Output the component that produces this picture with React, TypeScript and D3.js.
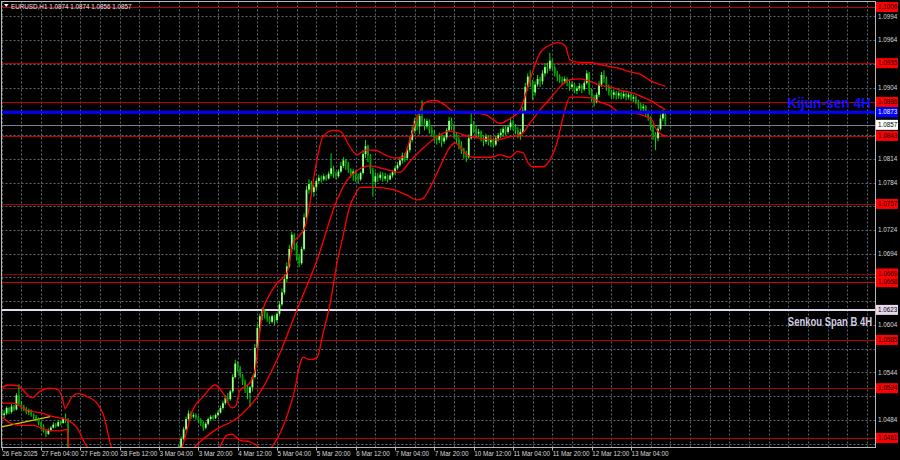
import React from "react";
import * as d3 from "d3";

// ---------- DATA ----------
const BASE = 1.04; // pips are counted above this price
const firstOpen = 95;
const closePips = [
  90, 92, 99, 94, 101, 97, 115, 104, 100, 98,
  94, 96, 91, 88, 85, 80, 76, 70, 66, 71,
  74, 78, 76, 81, 80, 85, 84, 40,
  38, 35, 30, 33, 28, 30, 32, 30,
  27, 31, 29, 26, 22, 19, 15, 12, 16, 20, 14, 10,
  4, 0, -6, -12, -8, -15, -22, -28, -25, -30, -27, -26,
  -18, -10, 0, 8, 12, 18, 22, 28, 24, 30, 35, 40,
  48, 60, 72, 85, 92, 88, 90, 87, 84, 80, 74, 79,
  85, 88, 86, 90, 93, 99, 105, 112, 110, 120, 138, 155,
  150, 140, 132, 126, 118, 125, 138, 175, 200, 215, 222, 218,
  212, 208, 215, 210, 218, 230, 245, 262, 278, 300, 318, 305,
  290, 282, 300, 340, 375, 382, 372, 378, 386, 390, 388, 392,
  389, 395, 402, 395, 392, 398, 405, 412, 408, 400, 395, 398,
  392, 388, 396, 420, 430, 418, 400, 385, 392, 390, 394, 389,
  392, 388, 393, 397, 402, 406, 412, 418, 415, 425, 438, 450,
  462, 455, 468, 460, 455, 462, 450, 446, 440, 438, 444, 436,
  441, 450, 462, 455, 445, 438, 432, 425, 420, 416, 440, 458,
  452, 446, 448, 440, 436, 442, 435, 438, 432, 440, 444, 447,
  452, 448, 454, 460, 455, 450, 444, 448, 475, 505, 518, 510,
  498, 508, 515, 512, 522, 530, 528, 538, 530, 522, 518, 515,
  512, 515, 510, 505, 508, 500, 503, 506, 502, 510, 522, 500,
  492, 486, 495, 508, 520, 515, 505, 498, 495, 498, 494, 497,
  493, 496, 492, 495, 490, 492, 486, 482, 478, 480, 472, 466,
  455, 445, 440, 452, 465, 474, 457,
];
const highPips = [
  97, 96, 101, 100, 104, 103, 118, 129, 108, 103,
  100, 98, 97, 92, 90, 87, 82, 78, 71, 73,
  76, 81, 80, 84, 83, 87, 92, 86,
  44, 40, 37, 36, 35, 33, 35, 34,
  32, 33, 33, 31, 28, 24, 21, 17, 18, 22, 23, 16,
  12, 6, 2, -3, -5, -6, -12, -20, -22, -23, -24, -23,
  -10, -8, 2, 12, 16, 22, 26, 32, 30, 34, 38, 44,
  52, 63, 75, 88, 96, 95, 93, 92, 89, 86, 82, 81,
  87, 90, 90, 92, 96, 102, 108, 115, 118, 122, 142, 160,
  158, 152, 142, 135, 128, 127, 140, 180, 205, 218, 226, 224,
  220, 215, 217, 216, 220, 234, 250, 268, 283, 305, 322, 320,
  308, 294, 303, 345, 380, 388, 386, 381, 389, 394, 393, 395,
  394, 398, 421, 405, 398, 401, 410, 416, 414, 410, 402, 401,
  400, 395, 398, 425, 438, 432, 420, 403, 397, 396, 398, 397,
  396, 394, 396, 400, 405, 410, 415, 422, 421, 428, 442, 455,
  466, 470, 472, 488, 465, 465, 464, 455, 450, 444, 447, 446,
  444, 453, 467, 466, 458, 448, 442, 436, 428, 424, 445, 473,
  462, 456, 452, 450, 444, 446, 444, 442, 440, 443, 447, 452,
  455, 456, 457, 466, 463, 458, 454, 452, 480, 510, 522, 526,
  514, 512, 520, 518, 526, 535, 536, 548, 540, 532, 525, 521,
  518, 518, 517, 513, 512, 510, 506, 510, 508, 513, 526, 524,
  503, 495, 498, 512, 524, 526, 518, 508, 501, 502, 500, 500,
  499, 500, 498, 498, 497, 495, 494, 489, 485, 484, 482, 475,
  468, 458, 448, 456, 470, 476, 474,
];
const lowPips = [
  86, 86, 90, 91, 92, 95, 96, 102, 97, 95,
  91, 90, 88, 85, 82, 77, 72, 68, 62, 65,
  69, 73, 74, 75, 77, 79, 80, 32,
  33, 30, 27, 28, 25, 26, 29, 28,
  24, 26, 27, 23, 20, 16, 12, 8, 10, 14, 11, 6,
  0, -5, -10, -18, -20, -22, -30, -35, -38, -36, -33, -30,
  -28, -20, -12, -2, 5, 10, 15, 20, 20, 22, 28, 33,
  38, 46, 58, 70, 83, 85, 86, 84, 80, 76, 70, 72,
  77, 83, 84, 85, 88, 92, 97, 103, 106, 108, 118, 136,
  145, 137, 128, 118, 110, 100, 120, 136, 172, 196, 210, 212,
  208, 205, 206, 204, 208, 215, 228, 242, 258, 276, 296, 298,
  285, 277, 280, 298, 338, 370, 368, 366, 374, 383, 384, 386,
  386, 388, 392, 390, 388, 390, 396, 402, 400, 396, 390, 386,
  385, 383, 386, 394, 415, 410, 395, 366, 378, 385, 387, 385,
  386, 384, 387, 390, 394, 400, 404, 408, 410, 412, 422, 435,
  446, 450, 445, 455, 450, 452, 446, 442, 436, 432, 434, 429,
  433, 438, 448, 450, 440, 434, 426, 420, 414, 410, 414, 438,
  447, 440, 441, 436, 430, 433, 431, 429, 428, 430, 436, 440,
  442, 444, 445, 450, 450, 445, 440, 438, 446, 472, 500, 505,
  488, 494, 505, 505, 508, 518, 522, 525, 526, 518, 512, 510,
  508, 509, 506, 500, 502, 497, 496, 500, 497, 500, 508, 495,
  486, 480, 484, 492, 505, 510, 500, 494, 490, 490, 489, 490,
  489, 490, 488, 489, 487, 486, 483, 477, 474, 472, 468, 462,
  450, 438, 425, 436, 450, 462, 456,
];

// Bollinger bands: [bar index, pips]
const bbUpper = [
  [0, 124], [2.6, 128], [6.6, 127], [12.3, 112], [15.6, 120], [19.7, 124], [22.9, 122], [24.9, 109],
  [25.8, 98], [27, 104], [28.6, 113], [31, 117], [35.1, 113], [38.8, 105], [41.2, 92], [44.9, 46],
  [52, 15], [60, 5], [66, 20], [70, 35], [73.4, 50], [77.8, 97], [81.9, 113], [86.8, 128], [90, 118],
  [93.7, 99], [95.3, 102], [96.9, 121], [101, 131], [103.1, 147], [104.3, 178], [106.3, 223],
  [107.9, 236], [112, 257], [116.1, 270], [118.5, 307], [121.4, 318], [123.4, 328], [125.4, 358],
  [127.5, 400], [130.7, 442], [134.8, 450], [137.6, 449], [141.7, 429], [144.5, 419], [147.8, 425],
  [151.9, 425], [155.9, 419], [160, 415], [163.3, 416], [166.1, 438], [169.4, 469], [172.2, 485],
  [176.3, 488], [180.3, 482], [184.4, 473], [190.5, 472], [196.6, 470], [202.7, 459], [206.8, 465],
  [210.9, 476], [214.9, 514], [219, 548], [223.1, 558], [226.3, 561], [229.2, 557], [231.2, 539],
  [235.3, 536], [239.3, 536], [243.4, 533], [250.3, 529], [255.6, 524], [259.7, 521], [263.8, 513],
  [267.8, 508], [270, 506],
];
const bbMiddle = [
  [0, 105], [4.6, 105], [10.3, 96], [15.6, 93], [20.9, 88], [26.6, 84], [30.6, 74], [34.7, 50],
  [45, 30], [55, 10], [65, 5], [72, 25], [78.6, 50], [86.8, 71], [95.7, 86], [103.9, 113], [112, 160],
  [120.1, 223], [128.3, 286], [136.4, 362], [140.5, 387], [144.5, 399], [149.8, 405], [155.9, 401],
  [162, 397], [166.1, 411], [170.2, 424], [177.1, 442], [182.4, 449], [189.3, 443], [194.6, 440],
  [201.5, 438], [206.8, 442], [210.9, 444], [214.9, 459], [219, 476], [223.1, 490], [227.1, 505],
  [231.2, 514], [235.3, 515], [239.3, 512], [243.4, 507], [247.5, 505], [251.5, 501], [256.8, 497],
  [260.9, 492], [264.9, 486], [267.8, 480], [270, 476],
];
const bbLower = [
  [0, 88], [3.4, 80], [7.4, 77], [12.7, 77], [18.4, 71], [23.7, 70], [26.6, 72], [27.3, 50], [30, 20],
  [40, -20], [55, -50], [70, -40], [80, 10], [86, 40], [88.8, 50], [91.3, 64], [93.7, 66], [96.9, 58],
  [101, 56], [104.3, 50], [106, 42], [108, 44], [109.9, 50], [114.5, 76], [118.5, 113], [122.6, 163],
  [125.4, 160], [128.3, 163], [130.7, 193], [133.6, 231], [136.4, 282], [138.9, 317], [141.7, 355],
  [143.7, 368], [145.8, 378], [151.1, 378], [159.2, 375], [164.9, 368], [169, 362], [171.4, 364],
  [174.3, 378], [178.3, 404], [182.4, 429], [184.4, 434], [189.3, 419], [191.7, 416], [198.7, 416],
  [202.7, 419], [206.8, 416], [209.6, 423], [212.1, 422], [214.1, 409], [216.2, 404], [220.2, 404],
  [223.1, 413], [225.9, 434], [228.4, 467], [231.2, 492], [235.3, 492], [239.3, 491], [243.4, 486],
  [247.5, 481], [251.5, 473], [256.8, 472], [260.9, 469], [264.6, 463], [265.8, 454], [267.8, 446],
  [270, 443],
];
const trendLine = [[0, 75], [19.7, 88]];

const levelPrices = [1.1006, 1.0935, 1.0886, 1.0843, 1.0757, 1.0669, 1.0658, 1.0585, 1.0524, 1.0461];
const levelColors = ["#c00000", "#b00000", "#c00000", "#c00000", "#a00000", "#900000", "#d00000", "#b00000", "#a00000", "#c00000"];
const kijunPrice = 1.0873;
const senkouBPrice = 1.0623;
const lastPrice = 1.0857;
const gridPrices = [
  1.0454, 1.0484, 1.0514, 1.0544, 1.0574, 1.0604, 1.0634, 1.0664, 1.0694, 1.0724,
  1.0754, 1.0784, 1.0814, 1.0844, 1.0874, 1.0904, 1.0934, 1.0964, 1.0994,
];
const timeLabelBars = [0, 16, 32, 48, 64, 80, 96, 112, 128, 144, 160, 176, 192, 208, 224, 240, 256];
const timeLabels = [
  "26 Feb 2025", "27 Feb 04:00", "27 Feb 20:00", "28 Feb 12:00", "3 Mar 04:00", "3 Mar 20:00",
  "4 Mar 12:00", "5 Mar 04:00", "5 Mar 20:00", "6 Mar 12:00", "7 Mar 04:00", "7 Mar 20:00",
  "10 Mar 12:00", "11 Mar 04:00", "11 Mar 20:00", "12 Mar 12:00", "13 Mar 04:00",
];
const titleText = "EURUSD,H1  1.0874 1.0874 1.0856 1.0857";

// ---------- CHART ----------
const W = 900;
const H = 460;
const PL = 1.5, PR = 875.5, PT = 1.5, PB = 447.5;
const FONT = "'Liberation Sans', Arial, sans-serif";

export default function App() {
  const x = d3.scaleLinear().domain([0, 270]).range([1.7, 665.4]);
  const y = d3.scaleLinear().domain([1.0461, 1.1006]).range([438, 7]);
  const pp = (v: number) => BASE + v / 10000;

  const candles = closePips.map((c, i) => {
    const o = i === 0 ? firstOpen : closePips[i - 1];
    const h = Math.max(highPips[i], o, c);
    const l = Math.min(lowPips[i], o, c);
    return { i, o, c, h, l };
  });

  const band = d3
    .line<number[]>()
    .x((d) => x(d[0]))
    .y((d) => y(pp(d[1])))
    .curve(d3.curveMonotoneX);

  const vGridBars = d3.range(0, 400, 8);

  const boxedPrices = [...levelPrices, kijunPrice, lastPrice, senkouBPrice];
  const visibleGridLabels = gridPrices.filter(
    (g) => !boxedPrices.some((b) => Math.abs(y(g) - y(b)) < 9)
  );

  const labelBox = (price: number, bg: string, fg: string, key: string) => (
    <g key={key}>
      <rect x={876} y={y(price) - 5} width={22} height={10} fill={bg} />
      <text x={878} y={y(price)} dy="0.35em" fontSize={6.3} fill={fg} fontFamily={FONT}>
        {price.toFixed(4)}
      </text>
    </g>
  );

  return (
    <svg
      width={W}
      height={H}
      style={{ position: "absolute", left: 0, top: 0, display: "block", background: "#000" }}
    >
      <rect x={0} y={0} width={W} height={H} fill="#000" />
      <defs>
        <clipPath id="plotclip">
          <rect x={PL} y={PT} width={PR - PL} height={PB - PT} />
        </clipPath>
      </defs>

      {/* grid */}
      <g stroke="#5d6670" strokeWidth={1} strokeDasharray="2 2">
        {gridPrices.map((g) => (
          <line key={"hg" + g} x1={PL} x2={PR} y1={Math.round(y(g)) + 0.5} y2={Math.round(y(g)) + 0.5} />
        ))}
        {vGridBars
          .filter((b) => x(b) < PR - 2)
          .map((b) => (
            <line key={"vg" + b} x1={Math.round(x(b)) + 0.5} x2={Math.round(x(b)) + 0.5} y1={PT} y2={PB} />
          ))}
      </g>

      {/* axis price labels */}
      <g fontFamily={FONT} fontSize={6.3} fill="#d8d8d8">
        {visibleGridLabels.map((g) => (
          <text key={"gl" + g} x={878} y={y(g)} dy="0.35em">
            {g.toFixed(4)}
          </text>
        ))}
      </g>

      <g clipPath="url(#plotclip)">
        {/* horizontal levels */}
        {levelPrices.map((lp, k) => (
          <line
            key={"lv" + lp}
            x1={PL}
            x2={PR}
            y1={Math.round(y(lp)) + 0.5}
            y2={Math.round(y(lp)) + 0.5}
            stroke={levelColors[k]}
            strokeWidth={1}
          />
        ))}
        <line x1={PL} x2={PR} y1={y(senkouBPrice)} y2={y(senkouBPrice)} stroke="#e4d8ec" strokeWidth={2} />
        <line x1={PL} x2={PR} y1={Math.round(y(lastPrice)) + 0.5} y2={Math.round(y(lastPrice)) + 0.5} stroke="#808080" strokeWidth={1} />

        {/* trend line */}
        <path d={d3.line<number[]>().x((d) => x(d[0])).y((d) => y(pp(d[1])))(trendLine) || ""} stroke="#e8c000" strokeWidth={1.3} fill="none" />

        {/* candles */}
        {candles.map((k) => {
          const cx = x(k.i);
          const top = y(pp(Math.max(k.o, k.c)));
          const bot = y(pp(Math.min(k.o, k.c)));
          const bull = k.c >= k.o;
          return (
            <g key={"c" + k.i}>
              <line x1={cx} x2={cx} y1={y(pp(k.h))} y2={y(pp(k.l))} stroke="#00e000" strokeWidth={1} />
              <rect
                x={cx - 0.9}
                y={top}
                width={1.8}
                height={Math.max(1, bot - top)}
                fill={bull ? "#9dff8a" : "#00a000"}
              />
            </g>
          );
        })}

        {/* Bollinger bands */}
        {[bbUpper, bbMiddle, bbLower].map((b, k) => (
          <path key={"bb" + k} d={band(b as number[][]) || ""} fill="none" stroke="#ff0000" strokeWidth={1.3} />
        ))}

        {/* Kijun-sen 4H line */}
        <line x1={PL} x2={PR} y1={y(kijunPrice)} y2={y(kijunPrice)} stroke="#0000ff" strokeWidth={3} />
      </g>

      {/* line captions (horizontally condensed) */}
      <g transform={`translate(871, ${y(kijunPrice) - 4}) scale(0.98, 1)`}>
        <text x={0} y={0} textAnchor="end" fontFamily={FONT} fontWeight="bold" fontSize={14} fill="#1010ff">
          Kijun-sen 4H
        </text>
      </g>
      <g transform={`translate(872, ${y(senkouBPrice) + 16}) scale(0.74, 1)`}>
        <text x={0} y={0} textAnchor="end" fontFamily={FONT} fontWeight="bold" fontSize={12.8} fill="#d4cce0">
          Senkou Span B 4H
        </text>
      </g>

      {/* frame */}
      <rect x={PL} y={PT} width={PR - PL} height={PB - PT} fill="none" stroke="#b8b8b8" strokeWidth={1} />

      {/* title */}
      <path d="M4,4 L8.5,4 L6.25,7 Z" fill="#ffffff" />
      <text x={11} y={8.5} fontFamily={FONT} fontSize={6.3} fill="#e8e8e8">
        {titleText}
      </text>

      {/* right axis labels for lines */}
      {levelPrices.map((lp) => labelBox(lp, "#ff0000", "#000000", "lb" + lp))}
      {labelBox(kijunPrice, "#0000ff", "#ffffff", "lbk")}
      {labelBox(lastPrice, "#ffffff", "#000000", "lbl")}
      {labelBox(senkouBPrice, "#e4d8ec", "#000000", "lbs")}

      {/* time axis */}
      <g fontFamily={FONT} fontSize={6.3} fill="#d8d8d8">
        {timeLabelBars.map((b, k) => (
          <g key={"t" + b}>
            <line x1={Math.round(x(b)) + 0.5} x2={Math.round(x(b)) + 0.5} y1={PB} y2={PB + 3} stroke="#b8b8b8" />
            <text x={x(b) + 0.5} y={456}>
              {timeLabels[k]}
            </text>
          </g>
        ))}
      </g>
    </svg>
  );
}
